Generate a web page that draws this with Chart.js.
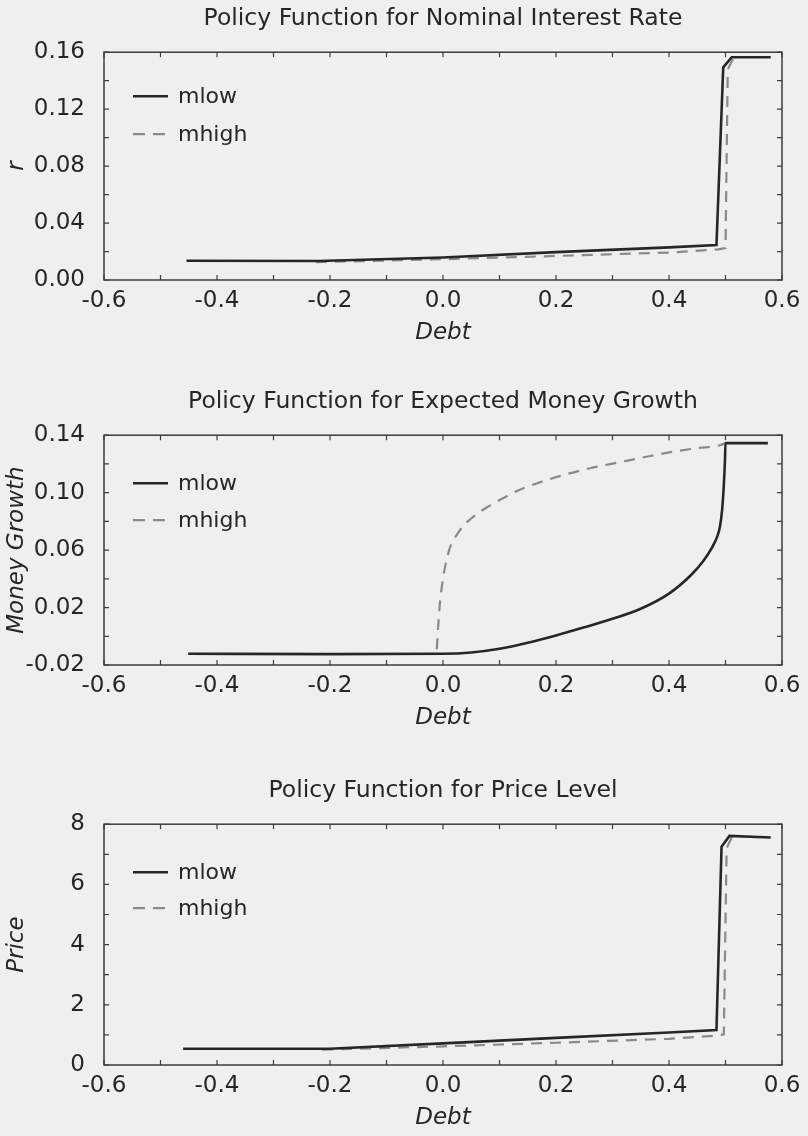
<!DOCTYPE html>
<html>
<head>
<meta charset="utf-8">
<script src="https://cdn.jsdelivr.net/npm/chart.js@4.4.1/dist/chart.umd.min.js"></script>
<style>
  html, body { margin: 0; padding: 0; }
  body { width: 808px; height: 1136px; background: #efefee; position: relative; overflow: hidden; }
  canvas { position: absolute; left: 0; }
</style>
</head>
<body>
<canvas id="c1" width="808" height="350" style="top:0px"></canvas>
<canvas id="c2" width="808" height="352" style="top:383px"></canvas>
<canvas id="c3" width="808" height="363" style="top:772px"></canvas>
<script>
// ---------- data ----------
const xTickStep = 0.1;

// Chart 1: nominal interest rate
const rDebtLow  = [-0.454, -0.22, 0.0, 0.2, 0.4, 0.484, 0.496, 0.511, 0.580];
const rLow      = [0.0135, 0.0133, 0.0158, 0.0196, 0.0229, 0.0245, 0.1494, 0.1565, 0.1565];
const rDebtHigh = [-0.225, 0.0, 0.2, 0.4, 0.487, 0.500, 0.504, 0.515];
const rHigh     = [0.0125, 0.0146, 0.0169, 0.0193, 0.0215, 0.0225, 0.1480, 0.1565];

// Chart 2: expected money growth
const gDebtLow  = [-0.451, -0.2, 0.0, 0.05, 0.1, 0.15, 0.2, 0.25, 0.3, 0.35, 0.4, 0.44, 0.46, 0.475, 0.485, 0.490, 0.494, 0.497, 0.499, 0.500, 0.575];
const gLow      = [-0.0122, -0.0124, -0.0122, -0.0113, -0.0087, -0.0045, 0.0006, 0.0062, 0.0122, 0.0192, 0.0297, 0.0430, 0.0520, 0.0610, 0.0690, 0.0760, 0.0880, 0.1050, 0.1220, 0.1345, 0.1345];
const gDebtHigh = [-0.011, -0.008, -0.005, 0.0, 0.0035, 0.008, 0.015, 0.025, 0.036, 0.05, 0.065, 0.083, 0.101, 0.13, 0.17, 0.22, 0.26, 0.31, 0.36, 0.40, 0.45, 0.49, 0.50];
const gHigh     = [-0.009, 0.010, 0.025, 0.040, 0.048, 0.056, 0.0645, 0.071, 0.077, 0.082, 0.0866, 0.091, 0.095, 0.101, 0.107, 0.113, 0.117, 0.121, 0.125, 0.128, 0.131, 0.133, 0.1345];

// Chart 3: price level
const pDebtLow  = [-0.46, -0.2, 0.0, 0.2, 0.4, 0.484, 0.493, 0.507, 0.580];
const pLow      = [0.54, 0.54, 0.72, 0.90, 1.08, 1.16, 7.25, 7.61, 7.56];
const pDebtHigh = [-0.214, 0.0, 0.2, 0.4, 0.482, 0.497, 0.502, 0.512];
const pHigh     = [0.51, 0.62, 0.74, 0.87, 0.97, 1.02, 7.20, 7.60];

const seriesNames = ['mlow', 'mhigh'];
const titles = ['Policy Function for Nominal Interest Rate', 'Policy Function for Expected Money Growth', 'Policy Function for Price Level'];
const yTitles = ['r', 'Money Growth', 'Price'];
const xTitle = 'Debt';

// ---------- helpers ----------
const FONT = 'DejaVu Sans';
Chart.defaults.font.family = FONT;
Chart.defaults.font.size = 23;
Chart.defaults.color = '#262626';

const TL = 5;
const frameTicks = {
  id: 'frameTicks',
  beforeDatasetsDraw(chart) {
    const { ctx, chartArea: a, scales: { x, y } } = chart;
    ctx.save();
    ctx.strokeStyle = '#3c3c3c';
    ctx.lineWidth = 1.5;
    ctx.strokeRect(a.left, a.top, a.right - a.left, a.bottom - a.top);
    ctx.lineWidth = 1.2;
    ctx.beginPath();
    x.ticks.forEach(t => {
      const px = x.getPixelForValue(t.value);
      ctx.moveTo(px, a.bottom); ctx.lineTo(px, a.bottom - TL);
      ctx.moveTo(px, a.top); ctx.lineTo(px, a.top + TL);
    });
    y.ticks.forEach(t => {
      const py = y.getPixelForValue(t.value);
      ctx.moveTo(a.left, py); ctx.lineTo(a.left + TL, py);
      ctx.moveTo(a.right, py); ctx.lineTo(a.right - TL, py);
    });
    ctx.stroke();
    ctx.restore();
  }
};

const insideLegend = {
  id: 'insideLegend',
  afterDatasetsDraw(chart, args, opts) {
    const { ctx, chartArea: a } = chart;
    ctx.save();
    ctx.font = '22px "' + FONT + '"';
    ctx.textBaseline = 'middle';
    ctx.textAlign = 'left';
    chart.data.datasets.forEach((ds, i) => {
      const yy = a.top + opts.y0 + i * opts.dy;
      ctx.strokeStyle = ds.borderColor;
      ctx.lineWidth = ds.borderWidth;
      ctx.setLineDash(i === 0 ? [] : [12, 8]);
      ctx.beginPath();
      ctx.moveTo(a.left + 29, yy);
      ctx.lineTo(a.left + 64, yy);
      ctx.stroke();
      ctx.setLineDash([]);
      ctx.fillStyle = '#262626';
      ctx.fillText(ds.label, a.left + 74, yy + 1);
    });
    ctx.restore();
  }
};

function pts(xs, ys) { return xs.map((v, i) => ({ x: v, y: ys[i] })); }

function makeChart(id, idx, xsL, ysL, xsH, ysH, yMin, yMax, yStep, yLabelFn, legendPos, smooth) {
  const interp = smooth ? 'monotone' : 'default';
  new Chart(document.getElementById(id), {
    type: 'line',
    data: {
      datasets: [
        { label: seriesNames[0], data: pts(xsL, ysL), borderColor: '#262626', borderWidth: 2.6, pointRadius: 0, tension: 0, cubicInterpolationMode: interp, order: 1 },
        { label: seriesNames[1], data: pts(xsH, ysH), borderColor: '#8a8a8a', borderWidth: 2.2, borderDash: [11, 8], pointRadius: 0, tension: 0, cubicInterpolationMode: interp, order: 2 }
      ]
    },
    options: {
      responsive: false,
      animation: false,
      events: [],
      layout: { padding: { left: 0, right: 26, top: 0, bottom: 0 } },
      plugins: {
        legend: { display: false },
        tooltip: { enabled: false },
        title: { display: true, fullSize: false, text: titles[idx], padding: { top: 5, bottom: 19 }, font: { size: 23.5, weight: 'normal' }, color: '#262626' },
        insideLegend: legendPos
      },
      scales: {
        x: {
          type: 'linear', min: -0.6, max: 0.6,
          grid: { display: false, drawTicks: false },
          border: { display: false },
          ticks: {
            stepSize: xTickStep, autoSkip: false, maxRotation: 0, padding: 7,
            callback: v => (Math.round(v * 10) % 2 === 0) ? (Math.abs(v) < 1e-9 ? '0.0' : v.toFixed(1)) : ''
          },
          title: { display: true, text: xTitle, font: { style: 'italic', size: 23 }, padding: { top: 0, bottom: 3 } },
          afterFit: s => { s.height = 70; }
        },
        y: {
          type: 'linear', min: yMin, max: yMax,
          grid: { display: false, drawTicks: false },
          border: { display: false },
          ticks: { stepSize: yStep, autoSkip: false, padding: 19, callback: yLabelFn },
          title: { display: true, text: yTitles[idx], font: { style: 'italic', size: 23 }, padding: { top: 3, bottom: 0 } },
          afterFit: s => { s.width = 104; }
        }
      }
    },
    plugins: [frameTicks, insideLegend]
  });
}

makeChart('c1', 0, rDebtLow, rLow, rDebtHigh, rHigh, 0, 0.16, 0.02,
  v => (Math.round(v / 0.02) % 2 === 0) ? v.toFixed(2) : '', { y0: 44, dy: 38 }, false);
makeChart('c2', 1, gDebtLow, gLow, gDebtHigh, gHigh, -0.02, 0.14, 0.02,
  v => (Math.round((v + 0.02) / 0.02) % 2 === 0) ? (Math.abs(v) < 1e-9 ? '0.00' : v.toFixed(2)) : '', { y0: 48, dy: 37 }, true);
makeChart('c3', 2, pDebtLow, pLow, pDebtHigh, pHigh, 0, 8, 1,
  v => (Math.round(v) % 2 === 0) ? String(Math.round(v)) : '', { y0: 48, dy: 36 }, false);
</script>
</body>
</html>
